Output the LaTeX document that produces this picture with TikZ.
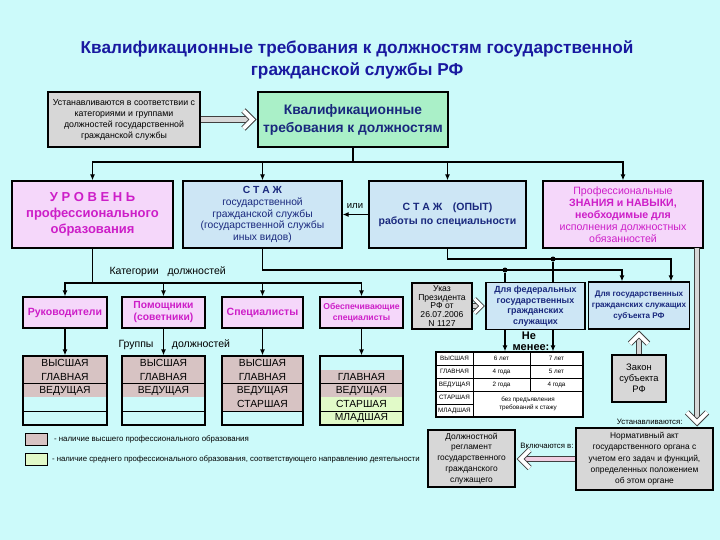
\documentclass[tikz,border=0pt]{standalone}
\usepackage{fontspec}
\setmainfont{Liberation Sans}
\usetikzlibrary{arrows.meta,calc}
\definecolor{bgc}{RGB}{204,250,250}
\definecolor{titleblue}{RGB}{25,25,160}
\definecolor{dblue}{RGB}{25,40,125}
\definecolor{greenc}{RGB}{170,240,200}
\definecolor{pinkc}{RGB}{245,215,250}
\definecolor{magc}{RGB}{205,30,200}
\definecolor{bluec}{RGB}{205,230,245}
\definecolor{grayc}{RGB}{215,215,215}
\definecolor{gpink}{RGB}{215,195,195}
\definecolor{ggreen}{RGB}{225,250,200}
\definecolor{hpink}{RGB}{240,205,225}
\newcommand\myfs[2]{\fontsize{#1}{#2}\selectfont}
\tikzset{
  box/.style={draw=black, line width=1.2pt, inner sep=1pt, align=center},
  conn/.style={line width=1.2pt, draw=black},
  arr/.style={conn, -{Latex[length=6pt,width=5pt]}},
  hshaft/.style={draw=black!75, line width=0.9pt, double=#1, double distance=4.5pt, line cap=butt},
  hhead/.style={draw=black!75, line width=0.9pt, double=#1, double distance=4pt, line join=miter, line cap=butt},
  dotn/.style={circle, fill=black, inner sep=0pt, minimum size=5pt},
  gtext/.style={font=\myfs{10.3}{11}},
  ytext/.style={font=\myfs{6.3}{7.5}},
  thin/.style={line width=0.7pt, draw=black},
  lbl/.style={font=\myfs{10.5}{12}},
}
\begin{document}
\begin{tikzpicture}[x=1pt,y=-1pt]
\useasboundingbox (0,0) rectangle (720,540);
\fill[bgc] (0,0) rectangle (720,540);

% title
\node[font=\bfseries\myfs{17.2}{22}, text=titleblue, align=center] (title) at (357,60)
  {Квалификационные требования к должностям государственной\\гражданской службы РФ};

% top row
\node[box, fill=grayc, minimum width=152, minimum height=55, font=\myfs{8.8}{11}] (est) at (124,119.5)
  {Устанавливаются в соответствии с\\категориями и группами\\должностей государственной\\гражданской службы};
\node[box, fill=greenc, minimum width=190, minimum height=55, font=\bfseries\myfs{13.8}{18}, text=dblue] (kt) at (353,119.5)
  {Квалификационные\\требования к должностям};
\draw[hshaft=grayc] (est.east) -- ($(kt.west)+(-7,0)$);
\draw[hhead=white] ($(kt.west)+(-14,-9)$) -- ($(kt.west)+(-5,0)$) -- ($(kt.west)+(-14,9)$);

% second row
\node[box, fill=pinkc, text=magc, minimum width=161, minimum height=67, font=\bfseries\myfs{13}{16}] (lvl) at (92.5,214.5)
  {У Р О В Е Н Ь\\профессионального\\образования};
\node[box, fill=bluec, text=dblue, minimum width=159, minimum height=67, font=\myfs{10.3}{11.9}] (stg) at (262.5,214.5)
  {\textbf{С Т А Ж}\\государственной\\гражданской службы\\(государственной службы\\иных видов)};
\node[box, fill=bluec, text=dblue, minimum width=157, minimum height=67, font=\bfseries\myfs{10.5}{14}] (exp) at (447.5,214.5)
  {С Т А Ж\quad(ОПЫТ)\\работы по специальности};
\node[box, fill=pinkc, text=magc, minimum width=160, minimum height=67, font=\myfs{10.6}{12}] (skl) at (623,214.5)
  {Профессиональные\\\textbf{ЗНАНИЯ и НАВЫКИ,}\\\textbf{необходимые для}\\исполнения должностных\\обязанностей};

\coordinate (bus) at (353,162);
\draw[conn] (kt.south) -- (bus);
\foreach \n in {lvl,stg,exp,skl} \draw[arr] (bus) -| (\n.north);

\draw[arr] (exp.west) -- (stg.east);
\node[font=\myfs{9.5}{11}] (ili) at (355,206) {или};

% categories
\node[box, fill=pinkc, text=magc, minimum width=84, minimum height=31, font=\bfseries\myfs{10.5}{11}] (ruk) at (65,312.5) {Руководители};
\node[box, fill=pinkc, text=magc, minimum width=83, minimum height=31, font=\bfseries\myfs{10.3}{12}] (pom) at (163.5,312.5) {Помощники\\(советники)};
\node[box, fill=pinkc, text=magc, minimum width=81, minimum height=31, font=\bfseries\myfs{10.5}{11}] (spe) at (262.5,312.5) {Специалисты};
\node[box, fill=pinkc, text=magc, minimum width=83, minimum height=31, font=\bfseries\myfs{8.6}{11}] (obe) at (361.5,312.5) {Обеспечивающие\\специалисты};

\coordinate (catbus) at (92.5,283);
\draw[conn] (lvl.south) -- (catbus);
\foreach \n in {ruk,pom,spe,obe} \draw[arr] (catbus) -| (\n.north);
\node[lbl, anchor=west] (catlbl) at (106,272) {Категории\ \ \ должностей};

% grade tables
\newcommand\rowfill[4]{\fill[#4] (#1,{356+13.8*(#3-1)}) rectangle (#2,{356+13.8*#3});}
\rowfill{23}{107}{1}{gpink}\rowfill{23}{107}{2}{gpink}\rowfill{23}{107}{3}{gpink}
\rowfill{122}{205}{1}{gpink}\rowfill{122}{205}{2}{gpink}\rowfill{122}{205}{3}{gpink}
\rowfill{222}{303}{1}{gpink}\rowfill{222}{303}{2}{gpink}\rowfill{222}{303}{3}{gpink}\rowfill{222}{303}{4}{gpink}
\rowfill{320}{403}{2}{gpink}\rowfill{320}{403}{3}{gpink}\rowfill{320}{403}{4}{ggreen}\rowfill{320}{403}{5}{ggreen}
\foreach \xl/\xr in {23/107,122/205,222/303,320/403} {
  \draw[thin] (\xl,383.6) -- (\xr,383.6);
  \draw[thin] (\xl,411.2) -- (\xr,411.2);
}
\node[box, minimum width=84, minimum height=69] (t1) at (65,390.5) {};
\node[box, minimum width=83, minimum height=69] (t2) at (163.5,390.5) {};
\node[box, minimum width=81, minimum height=69] (t3) at (262.5,390.5) {};
\node[box, minimum width=83, minimum height=69] (t4) at (361.5,390.5) {};
\node[gtext] (t1a) at (65,362.9) {ВЫСШАЯ};
\node[gtext] (t1b) at (65,376.7) {ГЛАВНАЯ};
\node[gtext] (t1c) at (65,390.5) {ВЕДУЩАЯ};
\node[gtext] (t2a) at (163.5,362.9) {ВЫСШАЯ};
\node[gtext] (t2b) at (163.5,376.7) {ГЛАВНАЯ};
\node[gtext] (t2c) at (163.5,390.5) {ВЕДУЩАЯ};
\node[gtext] (t3a) at (262.5,362.9) {ВЫСШАЯ};
\node[gtext] (t3b) at (262.5,376.7) {ГЛАВНАЯ};
\node[gtext] (t3c) at (262.5,390.5) {ВЕДУЩАЯ};
\node[gtext] (t3d) at (262.5,404.3) {СТАРШАЯ};
\node[gtext] (t4b) at (361.5,376.7) {ГЛАВНАЯ};
\node[gtext] (t4c) at (361.5,390.5) {ВЕДУЩАЯ};
\node[gtext] (t4d) at (361.5,404.3) {СТАРШАЯ};
\node[gtext] (t4e) at (361.5,418.1) {МЛАДШАЯ};
\draw[arr] (ruk.south) -- (t1.north);
\draw[arr] (pom.south) -- (t2.north);
\draw[arr] (spe.south) -- (t3.north);
\draw[arr] (obe.south) -- (t4.north);
\node[lbl] (grp1) at (136,345) {Группы};
\node[lbl] (grp2) at (201,345) {должностей};

% legend
\node[draw=black, line width=1pt, fill=gpink, minimum width=22, minimum height=12, inner sep=0pt] (leg1) at (36,439.5) {};
\node[draw=black, line width=1pt, fill=ggreen, minimum width=22, minimum height=12, inner sep=0pt] (leg2) at (36,459) {};
\node[anchor=west, font=\myfs{7.9}{9}, xshift=3pt] (leg1t) at (leg1.east) {- наличие высшего профессионального образования};
\node[anchor=west, font=\myfs{7.8}{9}, xshift=1pt] (leg2t) at (leg2.east) {- наличие среднего профессионального образования, соответствующего направлению деятельности};

% right part
\node[box, fill=grayc, minimum width=60, minimum height=46, font=\myfs{8.6}{8.8}] (ukaz) at (442,306)
  {Указ\\Президента\\РФ от\\26.07.2006\\N 1127};
\node[box, fill=bluec, text=dblue, minimum width=99, minimum height=47, font=\bfseries\myfs{8.9}{10.6}] (fed) at (535.5,306)
  {Для федеральных\\государственных\\гражданских\\служащих};
\node[box, fill=bluec, text=dblue, minimum width=101, minimum height=47, font=\bfseries\myfs{8.1}{11}] (subj) at (639,305.5)
  {Для государственных\\гражданских служащих\\субъекта РФ};
\node[box, fill=grayc, minimum width=54, minimum height=47, font=\myfs{9.4}{11}] (zakon) at (639,378.5)
  {Закон\\субъекта\\РФ};
\draw[hshaft=grayc, double distance=3.5pt] (ukaz.east) -- ($(fed.west)+(-6,0)$);
\draw[hhead=white, double distance=3pt] ($(fed.west)+(-11,-7)$) -- ($(fed.west)+(-4,0)$) -- ($(fed.west)+(-11,7)$);
\draw[hshaft=grayc] (zakon.north) -- ($(subj.south)+(0,7)$);
\draw[hhead=white] ($(subj.south)+(-9,14)$) -- ($(subj.south)+(0,5)$) -- ($(subj.south)+(9,14)$);

\coordinate (aR) at (622,270);
\draw[arr] (stg.south) |- (aR) -- (aR |- subj.north);
\node[dotn] (dA) at (505,270) {};
\draw[conn] (dA) -- (dA |- fed.north);
\coordinate (bR) at (671,259);
\draw[arr] (exp.south) |- (bR) -- (bR |- subj.north);
\node[dotn] (dB) at (553,259) {};
\draw[conn] (dB) -- (dB |- fed.north);

% years table
\node[draw=black, line width=1.2pt, fill=white, minimum width=147, minimum height=65, inner sep=0pt] (yt) at (509.5,384.5) {};
\foreach \yy in {365,378,391} \draw[thin] (436,\yy) -- (583,\yy);
\draw[thin] (436,404) -- (473,404);
\draw[thin] (473,352) -- (473,417);
\draw[thin] (530,352) -- (530,391);
\node[ytext] (y1a) at (454.5,358.5) {ВЫСШАЯ};
\node[ytext] (y2a) at (454.5,371.5) {ГЛАВНАЯ};
\node[ytext] (y3a) at (454.5,384.5) {ВЕДУЩАЯ};
\node[ytext] (y4a) at (454.5,397.5) {СТАРШАЯ};
\node[ytext] (y5a) at (454.5,410.5) {МЛАДШАЯ};
\node[ytext] (y1b) at (501.5,358.5) {6 лет};
\node[ytext] (y1c) at (556.5,358.5) {7 лет};
\node[ytext] (y2b) at (501.5,371.5) {4 года};
\node[ytext] (y2c) at (556.5,371.5) {5 лет};
\node[ytext] (y3b) at (501.5,384.5) {2 года};
\node[ytext] (y3c) at (556.5,384.5) {4 года};
\node[ytext, align=center] (y45) at (528,404) {без предъявления\\требований к стажу};
\draw[arr] (dA |- fed.south) -- (dA |- yt.north);
\draw[arr] (dB |- fed.south) -- (dB |- yt.north);
\node[font=\bfseries\myfs{11}{12}] (ne1) at (529,336) {Не};
\node[font=\bfseries\myfs{11}{12}] (ne2) at (531,348) {менее:};

% bottom right
\node[box, fill=grayc, minimum width=137, minimum height=62, font=\myfs{8.4}{11.3}] (norm) at (644.5,459)
  {Нормативный акт\\государственного органа с\\учетом его задач и функций,\\определенных положением\\об этом органе};
\node[box, fill=grayc, minimum width=87, minimum height=57, font=\myfs{8.4}{10.8}] (dolzh) at (471.5,458.5)
  {Должностной\\регламент\\государственного\\гражданского\\служащего};
\coordinate (sh) at (697,248);
\draw[hshaft=grayc] (sh) -- ($(sh |- norm.north)+(0,-8)$);
\draw[hhead=white] ($(sh |- norm.north)+(-10,-15)$) -- ($(sh |- norm.north)+(0,-5)$) -- ($(sh |- norm.north)+(10,-15)$);
\node[anchor=east, font=\myfs{7.8}{9}] (ust) at (686,422) {Устанавливаются:};
\draw[hshaft=hpink] (norm.west) -- ($(norm.west -| dolzh.east)+(7,0)$);
\draw[hhead=white] ($(norm.west -| dolzh.east)+(14,-9)$) -- ($(norm.west -| dolzh.east)+(5,0)$) -- ($(norm.west -| dolzh.east)+(14,9)$);
\node[font=\myfs{7.8}{9}] (vkl) at (547,446) {Включаются в:};
\end{tikzpicture}
\end{document}
